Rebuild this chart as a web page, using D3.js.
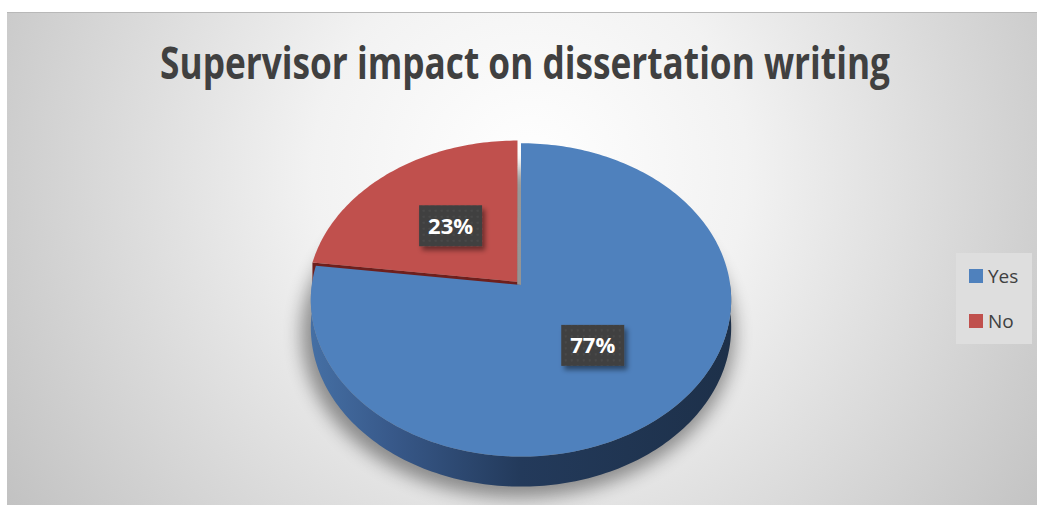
<!DOCTYPE html>
<html>
<head>
<meta charset="utf-8">
<script src="https://cdn.jsdelivr.net/npm/d3@7"></script>
<style>
  body { margin: 0; background: #fff; }
  svg { display: block; }
</style>
</head>
<body>
<div id="chart"></div>
<script>
// Chart data
var categories = ["Yes", "No"];
var values = [77, 23];
var labels = ["77%", "23%"];
var colors = ["#4f81bd", "#c0504d"];
var title = "Supervisor impact on dissertation writing";

var W = 1037, H = 505;

var svg = d3.select("#chart").append("svg")
    .attr("width", W)
    .attr("height", H);

var defs = svg.append("defs");

// background gradient
var bg = defs.append("radialGradient")
    .attr("id", "bg")
    .attr("gradientUnits", "userSpaceOnUse")
    .attr("cx", 530).attr("cy", 170).attr("r", 620);
bg.append("stop").attr("offset", "0%").attr("stop-color", "#ffffff");
bg.append("stop").attr("offset", "35%").attr("stop-color", "#f2f2f2");
bg.append("stop").attr("offset", "100%").attr("stop-color", "#c2c2c2");

// side wall gradient
var side = defs.append("linearGradient")
    .attr("id", "side")
    .attr("gradientUnits", "userSpaceOnUse")
    .attr("x1", 305).attr("y1", 0).attr("x2", 735).attr("y2", 0);
side.append("stop").attr("offset", "0%").attr("stop-color", "#4671a6");
side.append("stop").attr("offset", "20%").attr("stop-color", "#38598a");
side.append("stop").attr("offset", "50%").attr("stop-color", "#233a5b");
side.append("stop").attr("offset", "100%").attr("stop-color", "#1d3049");

// shadows
var sh = defs.append("filter").attr("id", "pieShadow")
    .attr("x", "-20%").attr("y", "-20%").attr("width", "140%").attr("height", "140%");
sh.append("feGaussianBlur").attr("stdDeviation", 9);

var lsh = defs.append("filter").attr("id", "lblShadow")
    .attr("x", "-30%").attr("y", "-30%").attr("width", "160%").attr("height", "160%");
lsh.append("feDropShadow").attr("dx", 3).attr("dy", 4).attr("stdDeviation", 2.5)
    .attr("flood-color", "#000").attr("flood-opacity", 0.45);

// dot texture for label boxes
var pat = defs.append("pattern").attr("id", "dots")
    .attr("patternUnits", "userSpaceOnUse")
    .attr("width", 6).attr("height", 6);
pat.append("rect").attr("width", 6).attr("height", 6).attr("fill", "#404040");
pat.append("circle").attr("cx", 3).attr("cy", 3).attr("r", 1).attr("fill", "#4d4d4d");

// chart area
svg.append("rect")
    .attr("x", 7).attr("y", 12)
    .attr("width", W - 7).attr("height", H - 12)
    .attr("fill", "url(#bg)");
svg.append("line")
    .attr("x1", 7).attr("x2", W).attr("y1", 12.5).attr("y2", 12.5)
    .attr("stroke", "#b8b8b8");

// title, squeezed horizontally to the reference width
var tg = svg.append("g");
var t = tg.append("text")
    .attr("x", 0).attr("y", 0)
    .attr("text-anchor", "middle")
    .style("font-family", "'Open Sans', sans-serif")
    .style("font-weight", 700)
    .style("font-size", "44px")
    .attr("fill", "#404040")
    .text(title);
var tw = t.node().getComputedTextLength();
var k = Math.min(1, 730 / tw);
tg.attr("transform", "translate(525,79) scale(" + k + ",1)");

// 3D projection of the pie disc
var cx = 521, cy = 285;
var tilt = 47.9 * Math.PI / 180;
var sn = Math.sin(tilt), cs = Math.cos(tilt);
var D = 7.05, F = 1475, depth = 0.13;

function proj(X, Y, down) {
    var dep = D + Y * cs;
    return [cx + F * X / dep, cy + F * (-Y * sn + down) / dep];
}

var pie = d3.pie().sort(null).startAngle(0).endAngle(2 * Math.PI);
var arcs = pie(values);
var explode = [0, 0.028];

function rim(a0, a1, r, off, down) {
    var n = Math.max(2, Math.ceil(Math.abs(a1 - a0) / 0.02));
    return d3.range(n + 1).map(function (i) {
        var a = a0 + (a1 - a0) * i / n;
        return proj(off[0] + r * Math.sin(a), off[1] + r * Math.cos(a), down);
    });
}

function offset(d, i) {
    var m = (d.startAngle + d.endAngle) / 2;
    return [explode[i] * Math.sin(m), explode[i] * Math.cos(m)];
}

var line = d3.line().curve(d3.curveLinear);

function topPath(d, i) {
    var o = offset(d, i);
    var pts = [proj(o[0], o[1], 0)].concat(rim(d.startAngle, d.endAngle, 1, o, 0));
    return line(pts) + "Z";
}

// shadow under the whole pie
var shadowPts = rim(0, 2 * Math.PI, 1.03, [0, 0], depth)
    .map(function (p) { return [p[0] - 3, p[1] + 5]; });
svg.append("path")
    .attr("d", line(shadowPts) + "Z")
    .attr("fill", "#000")
    .attr("opacity", 0.4)
    .attr("filter", "url(#pieShadow)");

var pieG = svg.append("g");

// side walls
arcs.forEach(function (d, i) {
    var o = offset(d, i);
    // outer wall, front half only
    var a0 = Math.max(d.startAngle, Math.PI / 2);
    var a1 = Math.min(d.endAngle, 3 * Math.PI / 2);
    if (a1 > a0) {
        var topR = rim(a0, a1, 1, o, 0);
        var botR = rim(a0, a1, 1, o, depth).reverse();
        pieG.append("path")
            .attr("d", line(topR.concat(botR)) + "Z")
            .attr("fill", i === 0 ? "url(#side)" : d3.color(colors[i]).darker(1.2));
    }
    // radial cut faces
    [d.startAngle, d.endAngle].forEach(function (a) {
        var c0 = proj(o[0], o[1], 0), c1 = proj(o[0], o[1], depth);
        var e0 = proj(o[0] + Math.sin(a), o[1] + Math.cos(a), 0);
        var e1 = proj(o[0] + Math.sin(a), o[1] + Math.cos(a), depth);
        pieG.append("path")
            .attr("d", line([c0, e0, e1, c1]) + "Z")
            .attr("fill", i === 0 ? "#2a4468" : "#6e1f1d");
    });
});

// top faces
pieG.selectAll(".slice")
    .data(arcs)
    .enter().append("path")
    .attr("class", "slice")
    .attr("d", topPath)
    .attr("fill", function (d, i) { return colors[i]; });

// data labels
arcs.forEach(function (d, i) {
    var o = offset(d, i);
    var m = (d.startAngle + d.endAngle) / 2;
    var p = proj(o[0] + 0.5 * Math.sin(m), o[1] + 0.5 * Math.cos(m), 0);
    var g = svg.append("g").attr("transform", "translate(" + p[0] + "," + p[1] + ")");
    g.append("rect")
        .attr("x", -31.5).attr("y", -20.5)
        .attr("width", 63).attr("height", 41)
        .attr("fill", "url(#dots)")
        .attr("filter", "url(#lblShadow)");
    g.append("text")
        .attr("text-anchor", "middle")
        .attr("dy", "0.36em")
        .style("font-family", "'Open Sans', sans-serif")
        .style("font-weight", 700)
        .style("font-size", "22px")
        .attr("fill", "#ffffff")
        .text(labels[i]);
});

// legend
var legend = svg.append("g");
legend.append("rect")
    .attr("x", 956).attr("y", 253)
    .attr("width", 76).attr("height", 91)
    .attr("fill", "#dedede");
var items = legend.selectAll(".item")
    .data(categories)
    .enter().append("g")
    .attr("class", "item")
    .attr("transform", function (d, i) { return "translate(969," + (269 + i * 45) + ")"; });
items.append("rect")
    .attr("width", 14).attr("height", 14)
    .attr("fill", function (d, i) { return colors[i]; });
items.append("text")
    .attr("x", 19).attr("y", 7)
    .attr("dy", "0.36em")
    .style("font-family", "'Open Sans', sans-serif")
    .style("font-size", "19px")
    .attr("fill", "#404040")
    .text(function (d) { return d; });
</script>
</body>
</html>
